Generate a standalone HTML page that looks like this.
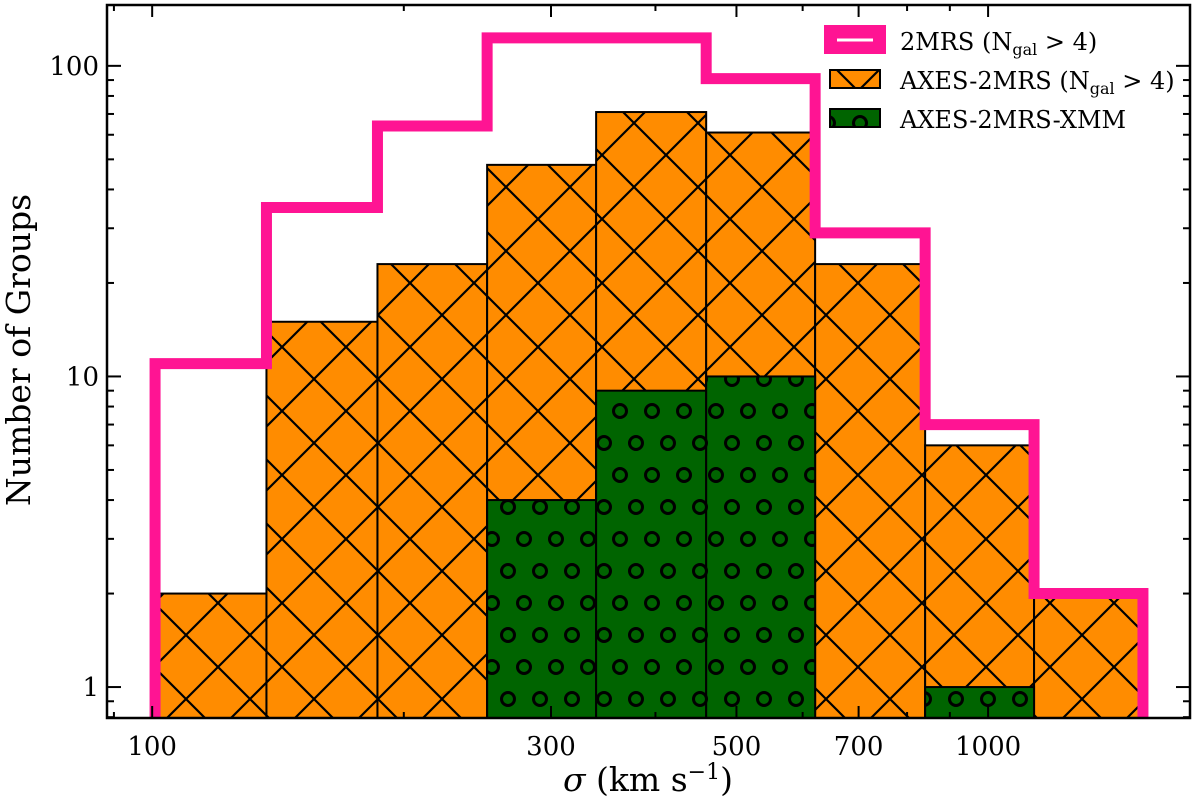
<!DOCTYPE html>
<html><head><meta charset="utf-8"><style>
body{margin:0;background:#fff}
svg text{font-family:"DejaVu Serif","Liberation Serif",serif;fill:#000}
</style></head><body>
<svg id="chart" width="1200" height="804" xmlns="http://www.w3.org/2000/svg">
<defs>
<pattern id="xh" patternUnits="userSpaceOnUse" width="64" height="64" patternTransform="translate(26,27)">
<rect width="64" height="64" fill="#ff8c00"/>
<path d="M-2,-2L66,66M66,-2L-2,66" stroke="#000" stroke-width="2.2"/>
</pattern>
<pattern id="oh" patternUnits="userSpaceOnUse" width="32" height="64" patternTransform="translate(12,27)">
<rect width="32" height="64" fill="#006400"/>
<g fill="none" stroke="#000" stroke-width="3">
<circle cx="0" cy="0" r="6.5"/><circle cx="32" cy="0" r="6.5"/>
<circle cx="0" cy="64" r="6.5"/><circle cx="32" cy="64" r="6.5"/>
<circle cx="16" cy="32" r="6.5"/>
</g>
</pattern>
<clipPath id="pc"><rect x="107" y="5" width="1083" height="713"/></clipPath>
</defs>
<g id="marks" clip-path="url(#pc)"></g>
<g id="axes"></g>
<g>
<rect x="824" y="25" width="62" height="29" fill="#ff1493"/>
<line x1="837" y1="40" x2="873" y2="40" stroke="#fff" stroke-width="3"/>
<text x="900" y="50" font-size="24">2MRS (N<tspan font-size="16" dy="5">gal</tspan><tspan dy="-5"> &gt; 4)</tspan></text>
<rect x="830" y="70" width="50" height="18" fill="url(#xh)" stroke="#000" stroke-width="2"/>
<text x="900" y="89" font-size="24">AXES-2MRS (N<tspan font-size="16" dy="5">gal</tspan><tspan dy="-5"> &gt; 4)</tspan></text>
<rect x="830" y="109" width="50" height="18" fill="url(#oh)" stroke="#000" stroke-width="2"/>
<text x="900" y="128" font-size="24">AXES-2MRS-XMM</text>
</g>
<text x="648" y="791" font-size="33" text-anchor="middle"><tspan font-style="italic">σ</tspan> (km s<tspan font-size="22" dy="-12">−1</tspan><tspan dy="12">)</tspan></text>
<text transform="translate(30,350) rotate(-90)" font-size="33" text-anchor="middle">Number of Groups</text>
</svg>
<script>
const binEdges=[100.8,137,186,251.6,339.7,460,621,840.8,1135,1532];
const count2MRS=[11,35,64,123,123,91,29,7,2];
const countAXES=[2,15,23,48,71,61,23,6,2];
const countXMM=[0,0,0,4,9,10,0,1,0];
const xTickVals=[100,300,500,700,1000];
const xTickLabels=["100","300","500","700","1000"];
const yTickVals=[1,10,100];
const yTickLabels=["1","10","100"];
const L=107,R=1190,T=5,B=718;
const xmin=88.3,xmax=1744,ymin=0.795,ymax=157;
const X=v=>L+(Math.log10(v)-Math.log10(xmin))/(Math.log10(xmax)-Math.log10(xmin))*(R-L);
const Y=v=>B-(Math.log10(v)-Math.log10(ymin))/(Math.log10(ymax)-Math.log10(ymin))*(B-T);
const NS="http://www.w3.org/2000/svg";
const mk=(t,a,p)=>{const e=document.createElementNS(NS,t);for(const k in a)e.setAttribute(k,a[k]);p.appendChild(e);return e;};
const marks=document.getElementById('marks'),axes=document.getElementById('axes');
function bars(arr,fill,name){arr.forEach((c,i)=>{if(c<=0)return;
 const x0=X(binEdges[i]),x1=X(binEdges[i+1]),y=Y(c);
 const r=mk('rect',{x:x0,y:y,width:x1-x0,height:B+5-y,fill:fill,stroke:'#000','stroke-width':2},marks);
 
 });}
bars(countAXES,'url(#xh)','axes-2mrs');
bars(countXMM,'url(#oh)','axes-2mrs-xmm');
let d='M'+X(binEdges[0])+','+(B+20);
count2MRS.forEach((c,i)=>{d+=' L'+X(binEdges[i])+','+Y(c)+' L'+X(binEdges[i+1])+','+Y(c);});
d+=' L'+X(binEdges[binEdges.length-1])+','+(B+20);
const st=mk('path',{d:d,fill:'none',stroke:'#ff1493','stroke-width':11,'stroke-linejoin':'miter'},marks);


const fr=mk('rect',{x:L,y:T,width:R-L,height:B-T,fill:'none',stroke:'#000','stroke-width':2.5},axes);


for(let dec=10;dec<=1000;dec*=10)for(let m=1;m<10;m++){const v=m*dec;if(v<xmin||v>xmax)continue;
 const x=X(v);const major=xTickVals.includes(v);const len=major?12:6;
 mk('line',{x1:x,y1:B,x2:x,y2:B-len,stroke:'#000','stroke-width':2},axes);
 mk('line',{x1:x,y1:T,x2:x,y2:T+len,stroke:'#000','stroke-width':2},axes);}
xTickVals.forEach((v,i)=>{const t=mk('text',{x:X(v),y:B+37,'font-size':26,'text-anchor':'middle'},axes);t.textContent=xTickLabels[i];
 
 });
for(let dec=0.1;dec<=100;dec*=10)for(let m=1;m<10;m++){const v=+(m*dec).toPrecision(3);if(v<ymin||v>ymax)continue;
 const y=Y(v);const major=yTickVals.includes(v);const len=major?14:7;
 mk('line',{x1:L,y1:y,x2:L+len,y2:y,stroke:'#000','stroke-width':2},axes);
 mk('line',{x1:R,y1:y,x2:R-len,y2:y,stroke:'#000','stroke-width':2},axes);}
yTickVals.forEach((v,i)=>{const t=mk('text',{x:L-8,y:Y(v)+9,'font-size':26,'text-anchor':'end'},axes);t.textContent=yTickLabels[i];
 
 });
</script>
</body></html>
